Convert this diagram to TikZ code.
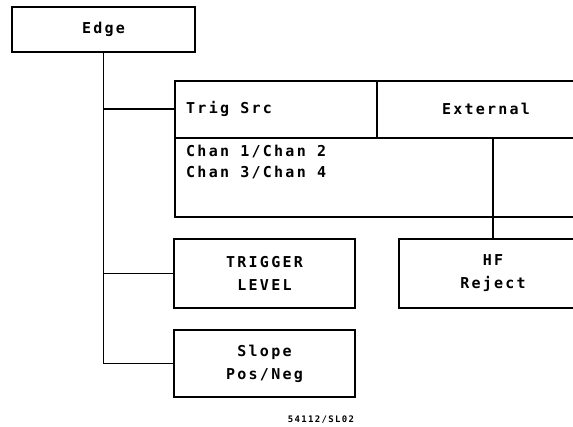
\documentclass[tikz,border=0pt]{standalone}
\usepackage{fontspec}
\usetikzlibrary{positioning,calc}
\newfontfamily\plotfont[LetterSpace=15]{DejaVu Sans Mono}

\begin{document}
\begin{tikzpicture}[x=1pt,y=-1pt,
      box/.style={draw,line width=1.8pt,inner sep=0pt,align=center,
        font=\plotfont\fontsize{15}{23}\selectfont\bfseries},
      txt/.style={inner sep=0pt,align=left,font=\plotfont\fontsize{15}{21}\selectfont\bfseries},
      link/.style={line width=1.2pt}]
    \useasboundingbox (0,0) rectangle (573,427);
    \clip (0,0) rectangle (573,427);
    % top menu key
    \node[box,minimum width=183pt,minimum height=45pt] (edge) at (103.5,29.5) {Edge};
    % trigger source table
    \node[box,anchor=north west,minimum width=426pt,minimum height=136pt] (trig) at (174,80) {};
    \node[txt,anchor=west] (trigsrc) at (186,109) {Trig Src};
    \node[txt] (external) at (486,109) {External};
    \node[txt,anchor=north west] (chans) at (186,145) {Chan 1/Chan 2\\Chan 3/Chan 4};
    \coordinate (hdr) at (174,138);
    \coordinate (div) at (377,138);
    \draw[line width=1.8pt] (hdr) -- (hdr -| trig.east);
    \draw[link] (div) -- (div |- trig.north);
    % softkeys
    \node[box,minimum width=181pt,minimum height=69pt] (level) at (264.5,273.5) {TRIGGER\\LEVEL};
    \node[box,minimum width=188pt,minimum height=69pt] (hf) at (493,273.5) {HF\\Reject};
    \node[box,minimum width=181pt,minimum height=67pt] (slope) at (264.5,363.5) {Slope\\Pos/Neg};
    \node[font=\plotfont\fontsize{9}{10}\selectfont\bfseries] (figid) at (321,420) {54112/SL02};
    % connectors
    \draw[link] (edge.south) |- (slope.west);
    \draw[link] (edge.south |- trigsrc.west) -- (trig.west |- trigsrc.west);
    \draw[link] (edge.south |- level.west) -- (level.west);
    \draw[link] (hf.north |- hdr) -- (hf.north);
  \end{tikzpicture}
\end{document}
